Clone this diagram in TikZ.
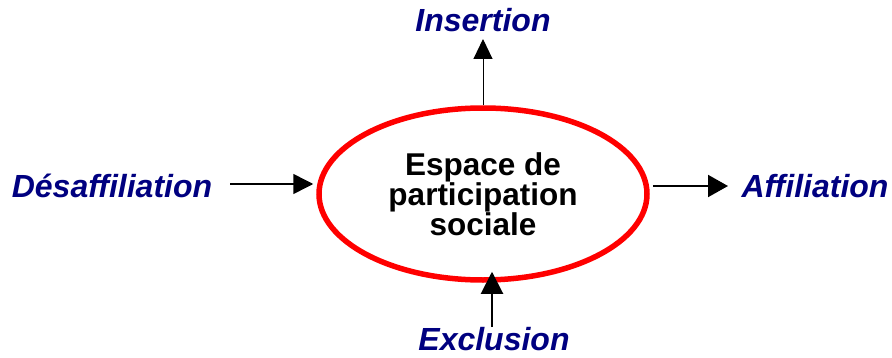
\documentclass[tikz,border=0pt]{standalone}
\usepackage{fontspec}
\setmainfont{Liberation Sans}
\usetikzlibrary{arrows.meta,shapes.geometric}
\definecolor{navy}{RGB}{0,0,128}
\tikzset{
  lbl/.style={font=\fontsize{32}{30}\selectfont\bfseries\itshape, text=navy, anchor=base, inner sep=0pt},
  arr/.style={-{Triangle[length=20pt,width=20pt]}, line width=1.5pt},
}
\begin{document}
\begin{tikzpicture}[x=1pt,y=1pt]
    \useasboundingbox (0,0) rectangle (892,357);

    % cercle central
    \node[ellipse, draw=red, line width=5.5pt, minimum width=328pt, minimum height=172pt,
          inner sep=0pt, align=center, font=\fontsize{31.5}{30}\selectfont\bfseries]
          (espace) at (483,163) {Espace de\\participation\\sociale};

    % les quatre termes
    \node[lbl] (insertion) at (483,325) {Insertion};
    \node[lbl] (desaff) at (112,160) {Désaffiliation};
    \node[lbl] (affil) at (815,160) {Affiliation};
    \node[lbl] (exclusion) at (494,7) {Exclusion};

    \coordinate (insTip) at (483,318);
    \coordinate (desTail) at (230,173);
    \coordinate (affTip) at (728,171);
    \coordinate (excTail) at (492,30);

    \draw[arr, line width=1pt, -{Triangle[length=20pt,width=19pt]}] (espace.north) -- (insTip);
    \draw[arr, shorten >=3pt] (desTail) -- (desTail -| espace.west);
    \draw[arr, line width=2pt, shorten <=3pt, -{Triangle[length=20pt,width=22pt]}] (affTip -| espace.east) -- (affTip);
    \draw[arr, line width=2pt, shorten >=-11pt, -{Triangle[length=22pt,width=22pt]}] (excTail) -- (excTail |- espace.south);
\end{tikzpicture}
\end{document}
